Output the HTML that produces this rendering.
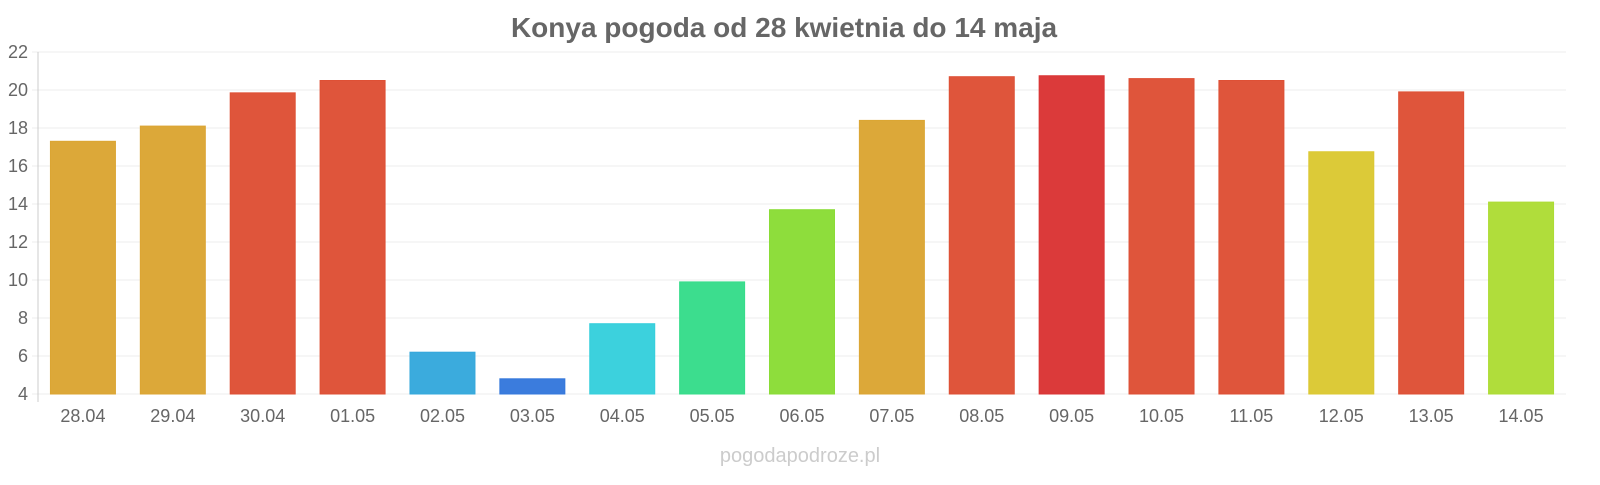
<!DOCTYPE html>
<html><head><meta charset="utf-8"><style>
body{margin:0;background:#fff;width:1600px;height:480px;overflow:hidden;font-family:"Liberation Sans",sans-serif}
</style></head><body>
<svg id="chart" width="1600" height="480" xmlns="http://www.w3.org/2000/svg">
<text x="784" y="37" text-anchor="middle" font-size="28" font-weight="bold" fill="#666">Konya pogoda od 28 kwietnia do 14 maja</text>
<text x="800" y="462" text-anchor="middle" font-size="20" fill="#ccc">pogodapodroze.pl</text>
<g id="grid"></g><g id="bars"></g><g id="xlabels"></g>
</svg>
<script>
const categories=["28.04","29.04","30.04","01.05","02.05","03.05","04.05","05.05","06.05","07.05","08.05","09.05","10.05","11.05","12.05","13.05","14.05"];
const temps=[17.3,18.1,19.85,20.5,6.2,4.8,7.7,9.9,13.7,18.4,20.7,20.75,20.6,20.5,16.75,19.9,14.1];
const barColors=["#dba533","#dba533","#de5035","#de5035","#35a8dc","#3578dc","#36cfdc","#36dc8a","#8adc36","#dba533","#de5035","#da3434","#de5035","#de5035","#dbc832","#de5035","#addc35"];
const yTicks=[4,6,8,10,12,14,16,18,20,22];
const NS="http://www.w3.org/2000/svg";
const pLeft=38,pRight=1566,pTop=52,pBottom=394,yMin=4,yMax=22;
const y=v=>pBottom-(v-yMin)/(yMax-yMin)*(pBottom-pTop);
const bw=(pRight-pLeft)/categories.length;
const x=i=>pLeft+bw*i+bw/2;
function mk(t,a){const e=document.createElementNS(NS,t);for(const k in a)e.setAttribute(k,a[k]);return e;}
const g=document.getElementById('grid');
yTicks.forEach(v=>{
 const l=mk('line',{x1:pLeft-6,x2:pRight,y1:y(v),y2:y(v),stroke:'#eee','stroke-width':1});
 
 
 g.appendChild(l);
 const t=mk('text',{x:pLeft-10,y:y(v)+6,'text-anchor':'end','font-size':18,fill:'#666'});
 t.textContent=v;
 
 
 g.appendChild(t);
});
const ax=mk('line',{x1:pLeft,x2:pLeft,y1:pTop,y2:pBottom+8,stroke:'#ccc'});


g.appendChild(ax);
const b=document.getElementById('bars'),xl=document.getElementById('xlabels');
categories.forEach((c,i)=>{
 const r=mk('rect',{x:x(i)-32.5,y:y(temps[i]),width:65,height:pBottom-y(temps[i]),fill:barColors[i],stroke:barColors[i],'fill-opacity':0.97});
 
 
 b.appendChild(r);
 const t=mk('text',{x:x(i),y:422,'text-anchor':'middle','font-size':18,fill:'#666'});
 t.textContent=c;
 
 
 xl.appendChild(t);
});
</script>
</body></html>
